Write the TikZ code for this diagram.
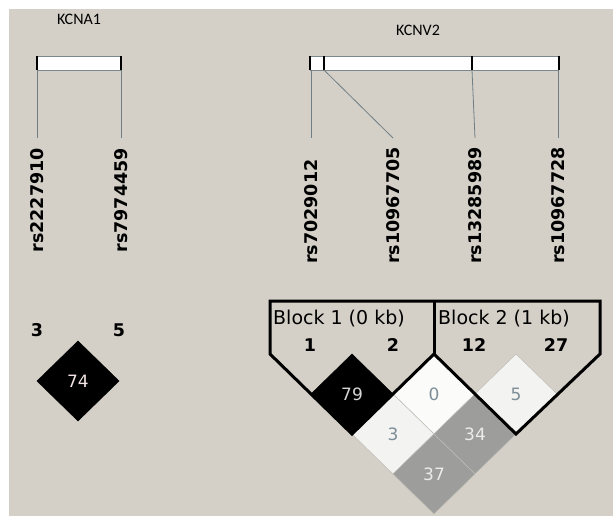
\documentclass[tikz,border=0pt]{standalone}
\usepackage{fontspec}
\setmainfont{DejaVu Sans}
\newfontfamily\genefont{Carlito}
\usetikzlibrary{shapes.geometric}
\definecolor{bg}{HTML}{D4D0C8}
\definecolor{barline}{HTML}{7A878C}
\definecolor{snpcol}{HTML}{6F7E84}
\definecolor{cellline}{HTML}{BEBDB6}
\definecolor{bluetxt}{HTML}{7D8E98}
\definecolor{ltxt}{HTML}{D6D6D6}
\definecolor{wtxt}{HTML}{ECECEC}
\definecolor{pinktxt}{HTML}{F2E4E2}
\definecolor{cwhite}{HTML}{FBFBFA}
\definecolor{cpale}{HTML}{F3F3F1}
\definecolor{cgray}{HTML}{9D9D9C}
\tikzset{
  genelabel/.style={inner sep=0pt, font=\genefont\fontsize{16}{18}\selectfont},
  genebar/.style={draw=barline, line width=0.8pt, fill=white, minimum height=14pt, inner sep=0pt},
  endcap/.style={line width=2pt, black},
  snpline/.style={draw=snpcol, line width=0.8pt},
  rslabel/.style={rotate=90, inner sep=0pt, font=\bfseries\fontsize{17.5}{19}\selectfont},
  snpnum/.style={inner sep=0pt, font=\bfseries\fontsize{17.5}{19}\selectfont},
  blocklabel/.style={inner sep=0pt, font=\fontsize{19}{21}\selectfont},
  ldcell/.style={diamond, draw=cellline, line width=0.5pt, minimum width=82pt, minimum height=80pt, inner sep=0pt, outer sep=0pt, font=\fontsize{17}{19}\selectfont},
  blockline/.style={line width=3pt, black, line join=miter}
}
\begin{document}
\begin{tikzpicture}[x=1pt,y=-1pt]
\useasboundingbox (0,0) rectangle (613,516);
\fill[white] (0,0) rectangle (613,516);
\fill[bg] (9,9) rectangle (613,516);

% gene names
\node[genelabel] (kcna1) at (79,19) {KCNA1};
\node[genelabel] (kcnv2) at (418,30) {KCNV2};

% gene bars
\node[genebar, minimum width=84pt] (bara) at (79,63) {};
\node[genebar, minimum width=248pt] (barv) at (434.5,63) {};
\draw[endcap] (bara.north west) -- (bara.south west);
\draw[endcap] (bara.north east) -- (bara.south east);
\draw[endcap] (barv.north west) -- (barv.south west);
\draw[endcap] (barv.north east) -- (barv.south east);
\coordinate (t2a) at (324,56);
\coordinate (t2b) at (324,70);
\coordinate (t3a) at (472,56);
\coordinate (t3b) at (472,70);
\draw[endcap] (t2a) -- (t2b);
\draw[endcap] (t3a) -- (t3b);

% SNP positions on bars
\coordinate (pa1) at (37,70);
\coordinate (pa2) at (121,70);
\coordinate (pv1) at (311,70);
\coordinate (pv2) at (324,70);
\coordinate (pv3) at (472,70);
\coordinate (pv4) at (558,70);
% line ends
\coordinate (ea1) at (37,138);
\coordinate (ea2) at (121,138);
\coordinate (ev1) at (311,138);
\coordinate (ev2) at (393,138);
\coordinate (ev3) at (475,138);
\coordinate (ev4) at (558,138);
\draw[snpline] (pa1) -- (ea1);
\draw[snpline] (pa2) -- (ea2);
\draw[snpline] (pv1) -- (ev1);
\draw[snpline] (pv2) -- (ev2);
\draw[snpline] (pv3) -- (ev3);
\draw[snpline] (pv4) -- (ev4);

% SNP names
\node[rslabel, anchor=east] (ra1) at (37,148) {rs2227910};
\node[rslabel, anchor=east] (ra2) at (121,148) {rs7974459};
\node[rslabel, anchor=west] (rv1) at (311,264) {rs7029012};
\node[rslabel, anchor=west] (rv2) at (393,264) {rs10967705};
\node[rslabel, anchor=west] (rv3) at (475,264) {rs13285989};
\node[rslabel, anchor=west] (rv4) at (558,264) {rs10967728};

% left LD plot
\node[snpnum] (na1) at (37,330) {3};
\node[snpnum] (na2) at (119,330) {5};
\node[ldcell, fill=black, draw=black, text=pinktxt] (c74) at (78,381) {74};

% right LD plot
\node[ldcell, fill=black, draw=black, text=ltxt] (c79) at (352,394) {79};
\node[ldcell, fill=cwhite, text=bluetxt] (c0) at (434,394) {0};
\node[ldcell, fill=cpale, text=bluetxt] (c5) at (516,394) {5};
\node[ldcell, fill=cpale, text=bluetxt] (c3) at (393,434) {3};
\node[ldcell, fill=cgray, text=wtxt] (c34) at (475,434) {34};
\node[ldcell, fill=cgray, text=wtxt] (c37) at (434,474) {37};

% block outlines
\coordinate (b1) at (270,301);
\coordinate (b2) at (434,301);
\coordinate (b3) at (600,301);
\coordinate (b4) at (600,354);
\coordinate (b5) at (516,434);
\coordinate (b6) at (434,354);
\coordinate (b7) at (352,434);
\coordinate (b8) at (270,354);
\draw[blockline] (b1) -- (b3) -- (b4) -- (b5) -- (b6) -- (b7) -- (b8) -- cycle;
\draw[blockline] (b2) -- (b6);

\node[blocklabel, anchor=west] (bl1) at (273,319) {Block 1 (0 kb)};
\node[blocklabel, anchor=west] (bl2) at (438,319) {Block 2 (1 kb)};
\node[snpnum] (nv1) at (310,345) {1};
\node[snpnum] (nv2) at (393,345) {2};
\node[snpnum] (nv3) at (474,345) {12};
\node[snpnum] (nv4) at (556,345) {27};
\end{tikzpicture}
\end{document}
